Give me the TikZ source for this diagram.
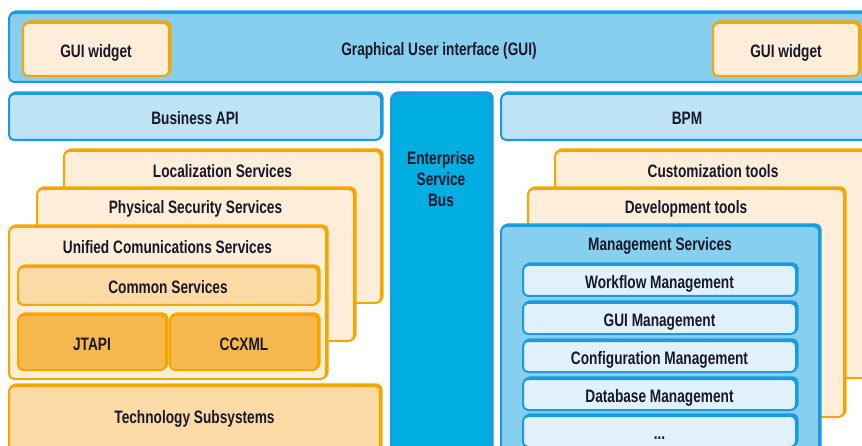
\documentclass[tikz,border=0pt]{standalone}
\usepackage{fontspec}
\setmainfont[FakeStretch=0.76]{Liberation Sans}
\usetikzlibrary{shadows}

\definecolor{bluebord}{HTML}{1B9BDF}
\definecolor{guifill}{HTML}{87CFEF}
\definecolor{apifill}{HTML}{BEE3F5}
\definecolor{esbfill}{HTML}{00AEE2}
\definecolor{itemfill}{HTML}{E1F1FB}
\definecolor{orbord}{HTML}{F5A700}
\definecolor{lightor}{HTML}{FEEDD8}
\definecolor{midor}{HTML}{FBDAA6}
\definecolor{darkor}{HTML}{F6B84D}
\definecolor{txt}{HTML}{18182A}

\begin{document}
\begin{tikzpicture}[x=1pt,y=-1pt,
        every node/.style={font=\bfseries\fontsize{18}{21}\selectfont,text=txt,inner sep=0pt},
        box/.style={anchor=north west,rounded corners=5pt,line width=2pt,align=center,
            text height=16pt,text depth=0pt},
        bbox/.style={box,draw=bluebord,fill=#1,
            copy shadow={shadow xshift=1.6pt,shadow yshift=1.6pt,draw=bluebord,fill=bluebord}},
        obox/.style={box,draw=orbord,fill=#1,
            copy shadow={shadow xshift=1.6pt,shadow yshift=1.6pt,draw=orbord,fill=orbord}},
        top/.style={anchor=center,yshift=-21pt}]

    \useasboundingbox (0,0) rectangle (862,446);
    \clip (0,0) rectangle (862,446);

    % top bar
    \node[bbox=guifill,minimum width=860,minimum height=69] (gui) at (8,12) {Graphical User interface (GUI)};
    \node[obox=lightor,minimum width=146,minimum height=53] (wl) at (22,22) {GUI widget};
    \node[obox=lightor,minimum width=146,minimum height=53] (wr) at (712,22) {GUI widget};

    % second row
    \node[bbox=apifill,minimum width=372,minimum height=46] (api) at (8,93) {Business API};
    \node[bbox=apifill,minimum width=372,minimum height=46] (bpm) at (500,93) {BPM};
    \node[bbox=esbfill,minimum width=100,minimum height=380,
        label={[anchor=center,yshift=-86pt,align=center]north:Enterprise\\Service\\Bus}] (esb) at (390,93) {};

    % left stack
    \node[obox=lightor,minimum width=317,minimum height=152,label={[top]north:Localization Services}] (loc) at (63,150) {};
    \node[obox=lightor,minimum width=317,minimum height=152,label={[top]north:Physical Security Services}] (phy) at (36,188) {};
    \node[obox=lightor,minimum width=317,minimum height=152,label={[top]north:Unified Comunications Services}] (ucs) at (8,226) {};
    \node[obox=midor,minimum width=300,minimum height=38] (com) at (17,266) {Common Services};
    \node[obox=darkor,minimum width=148,minimum height=55] (jta) at (17,314) {JTAPI};
    \node[obox=darkor,minimum width=148,minimum height=55] (ccx) at (169,314) {CCXML};
    \node[obox=midor,minimum width=371,minimum height=90,
        label={[anchor=center,yshift=-34pt]north:Technology Subsystems}] (tec) at (8,385) {};

    % right stack
    \node[obox=lightor,minimum width=316,minimum height=227,label={[top]north:Customization tools}] (cus) at (554,150) {};
    \node[obox=lightor,minimum width=316,minimum height=228,label={[top]north:Development tools}] (dev) at (527,188) {};
    \node[bbox=guifill,minimum width=318,minimum height=250,label={[top]north:Management Services}] (mgt) at (500,225) {};
    \node[bbox=itemfill,minimum width=273,minimum height=31] (wf) at (522,264) {Workflow Management};
    \node[bbox=itemfill,minimum width=273,minimum height=31] (gm) at (522,302) {GUI Management};
    \node[bbox=itemfill,minimum width=273,minimum height=31] (cm) at (522,340) {Configuration Management};
    \node[bbox=itemfill,minimum width=273,minimum height=31] (dm) at (522,378) {Database Management};
    \node[bbox=itemfill,minimum width=273,minimum height=31] (more) at (522,415) {...};
\end{tikzpicture}
\end{document}
